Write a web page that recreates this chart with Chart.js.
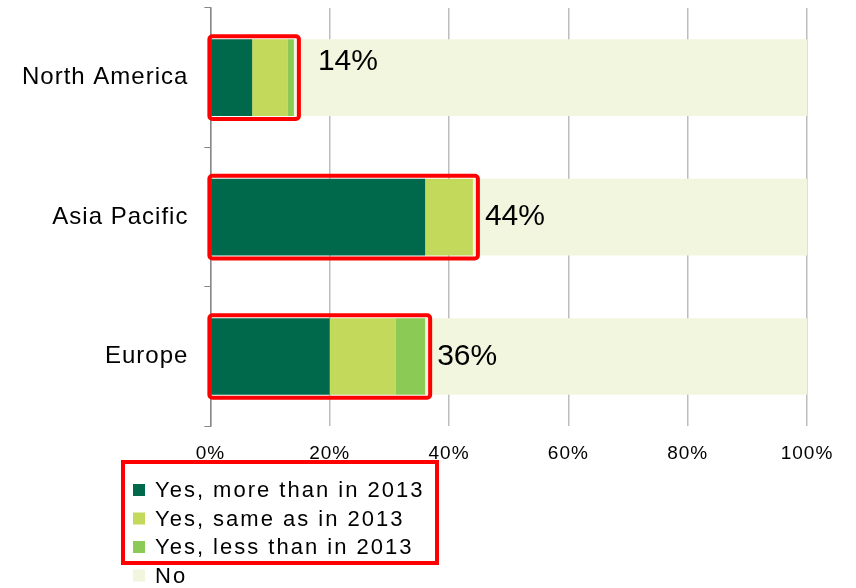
<!DOCTYPE html>
<html>
<head>
<meta charset="utf-8">
<script src="https://cdn.jsdelivr.net/npm/chart.js@4"></script>
<style>
html, body { margin: 0; padding: 0; background: #fff; }
#wrap { width: 856px; height: 588px; }
</style>
</head>
<body>
<div id="wrap"><canvas id="regionChart"></canvas></div>
<script>
var regions = ['North America', 'Asia Pacific', 'Europe'];
var moreThan2013 = [7, 36, 20];
var sameAs2013 = [6, 8, 11];
var lessThan2013 = [1, 0, 5];
var notInvesting = [86, 56, 64];
var seriesNames = ['Yes, more than in 2013', 'Yes, same as in 2013', 'Yes, less than in 2013', 'No'];
var seriesColors = ['#00694B', '#C3D95B', '#8BCB55', '#F2F6DE'];
var xTicks = [0, 20, 40, 60, 80, 100];

var FONT = '"Liberation Sans", Arial, sans-serif';

// share of "yes" answers per region
function yesTotal(i) {
    return moreThan2013[i] + sameAs2013[i] + lessThan2013[i];
}

// Excel-like spacing for the axis text
var spacingPlugin = {
    id: 'spacing',
    beforeLayout: function(chart) { chart.ctx.letterSpacing = '1px'; },
    beforeDraw: function(chart) { chart.ctx.letterSpacing = '1px'; }
};

// red frames round the "yes" part of each bar, plus the total label
var highlightPlugin = {
    id: 'highlight',
    afterDatasetsDraw: function(chart, args, opts) {
        var ctx = chart.ctx;
        var x = chart.scales.x;
        var meta = chart.getDatasetMeta(0);
        regions.forEach(function(r, i) {
            var bar = meta.data[i];
            var half = bar.height / 2;
            var x0 = x.getPixelForValue(0);
            var x1 = x.getPixelForValue(yesTotal(i));
            ctx.save();
            ctx.strokeStyle = '#FF0000';
            ctx.lineWidth = 4;
            ctx.beginPath();
            ctx.roundRect(x0 - 1, bar.y - half - 3, x1 - x0 + 6, bar.height + 6, 3);
            ctx.stroke();
            ctx.letterSpacing = '0px';
            ctx.fillStyle = '#000';
            ctx.font = '30px ' + FONT;
            ctx.textBaseline = 'middle';
            var shift = opts.labelShift[i];
            ctx.fillText(yesTotal(i) + '%', x1 + 12 + shift[0], bar.y + shift[1]);
            ctx.restore();
        });
    }
};

// vertical legend under the axis, first three entries framed
var legendPlugin = {
    id: 'columnLegend',
    afterDraw: function(chart, args, opts) {
        var ctx = chart.ctx;
        ctx.save();
        ctx.font = '22px ' + FONT;
        ctx.letterSpacing = '2px';
        ctx.textBaseline = 'middle';
        seriesNames.forEach(function(name, i) {
            var y = opts.top + i * opts.rowHeight;
            ctx.fillStyle = seriesColors[i];
            ctx.fillRect(opts.left, y - 6, 12, 12);
            ctx.fillStyle = '#000';
            ctx.fillText(name, opts.left + 22, y + 1);
        });
        ctx.strokeStyle = '#FF0000';
        ctx.lineWidth = 4;
        ctx.strokeRect(opts.left - 10, opts.top - 28, 314, 2 * opts.rowHeight + 44);
        ctx.restore();
    }
};

var datasets = [moreThan2013, sameAs2013, lessThan2013, notInvesting].map(function(values, i) {
    return {
        label: seriesNames[i],
        data: values,
        backgroundColor: seriesColors[i],
        borderWidth: 0,
        categoryPercentage: 1,
        barPercentage: 0.55
    };
});

var ctx = document.getElementById('regionChart').getContext('2d');
var regionChart = new Chart(ctx, {
    type: 'bar',
    data: {
        labels: regions,
        datasets: datasets
    },
    plugins: [spacingPlugin, highlightPlugin, legendPlugin],
    options: {
        indexAxis: 'y',
        responsive: true,
        maintainAspectRatio: false,
        animation: false,
        layout: {
            padding: { top: 8, right: 49, bottom: 107, left: 6 }
        },
        scales: {
            x: {
                stacked: true,
                min: 0,
                max: 100,
                afterBuildTicks: function(scale) {
                    scale.ticks = xTicks.map(function(v) { return { value: v }; });
                },
                grid: { color: '#BDBDBD', lineWidth: 1.5, drawTicks: false },
                border: { display: false },
                ticks: {
                    color: '#000',
                    padding: 16,
                    font: { family: FONT, size: 19 },
                    callback: function(v) { return v + '%'; }
                }
            },
            y: {
                stacked: true,
                afterFit: function(scale) {
                    scale.paddingTop = 0;
                    scale.paddingBottom = 0;
                },
                grid: { drawOnChartArea: false, color: '#888', tickLength: 6 },
                border: { color: '#888', width: 1.5 },
                ticks: {
                    color: '#000',
                    padding: 16,
                    font: { family: FONT, size: 24 }
                }
            }
        },
        plugins: {
            legend: { display: false },
            tooltip: { enabled: false },
            highlight: { labelShift: [[12, -16], [0, 0], [0, 0]] },
            columnLegend: { left: 133, top: 490, rowHeight: 28.5 }
        }
    }
});
</script>
</body>
</html>
